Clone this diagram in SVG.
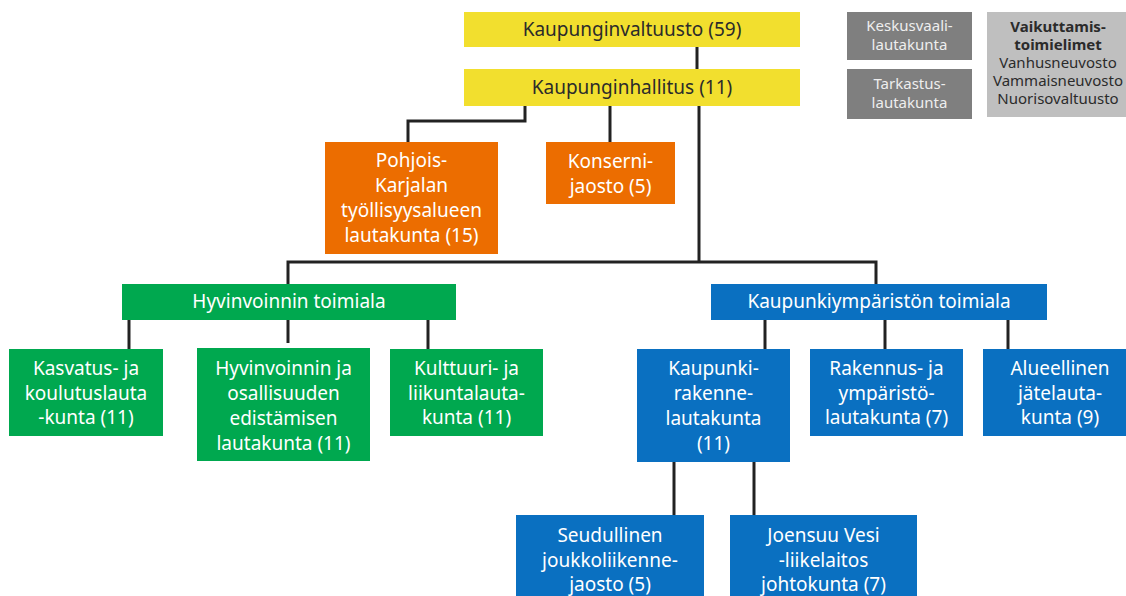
<svg xmlns="http://www.w3.org/2000/svg" width="1126" height="596" viewBox="0 0 1126 596">
<style>
.y{fill:#f2df2e}
.o{fill:#ec6d00}
.g{fill:#00a84f}
.b{fill:#0a70c1}
.dg{fill:#7f7f7f}
.lg{fill:#bfbfbf}
text{font-family:"Noto Sans","Liberation Sans",sans-serif;font-size:19px;text-anchor:middle}
.w{fill:#ffffff}
.k{fill:#2b2b2b}
.s{font-size:15px}
.sw{fill:#eeeeee}
.bd{font-weight:bold}
.c{fill:none;stroke:#222;stroke-width:3;stroke-linejoin:miter}
</style>
<g id="connectors">
<path class="c" d="M697 47V69"/>
<path class="c" d="M525 106V121H408V142"/>
<path class="c" d="M610 106V142"/>
<path class="c" d="M699 106V262"/>
<path class="c" d="M288 284V262H876V284"/>
<path class="c" d="M129 319V349"/>
<path class="c" d="M288 319V343"/>
<path class="c" d="M428 319V349"/>
<path class="c" d="M765 320V349"/>
<path class="c" d="M885 320V349"/>
<path class="c" d="M1008 320V349"/>
<path class="c" d="M674 462V515"/>
<path class="c" d="M754 462V515"/>
</g>
<g id="valtuusto"><rect class="y" x="464" y="12" width="336" height="35"/><text class="k" x="632" y="36">Kaupunginvaltuusto (59)</text></g>
<g id="hallitus"><rect class="y" x="464" y="69" width="336" height="37"/><text class="k" x="632" y="94">Kaupunginhallitus (11)</text></g>
<g id="keskusvaali"><rect class="dg" x="847" y="12" width="125" height="48"/><text class="s sw" x="909.5" y="31">Keskusvaali-</text><text class="s sw" x="909.5" y="50">lautakunta</text></g>
<g id="tarkastus"><rect class="dg" x="847" y="69" width="125" height="50"/><text class="s sw" x="909.5" y="89">Tarkastus-</text><text class="s sw" x="909.5" y="108">lautakunta</text></g>
<g id="vaikuttamis"><rect class="lg" x="987" y="12" width="139" height="105"/>
<text class="s k bd" x="1058" y="32">Vaikuttamis-</text>
<text class="s k bd" x="1058" y="50">toimielimet</text>
<text class="s k" x="1058" y="68">Vanhusneuvosto</text>
<text class="s k" x="1058" y="86">Vammaisneuvosto</text>
<text class="s k" x="1058" y="104">Nuorisovaltuusto</text></g>
<g id="pohjois"><rect class="o" x="325" y="142" width="173" height="112"/>
<text class="w" x="411.5" y="167">Pohjois-</text><text class="w" x="411.5" y="192">Karjalan</text><text class="w" x="411.5" y="217">työllisyysalueen</text><text class="w" x="411.5" y="242">lautakunta (15)</text></g>
<g id="konserni"><rect class="o" x="546" y="142" width="129" height="62"/>
<text class="w" x="610.5" y="168">Konserni-</text><text class="w" x="610.5" y="193">jaosto (5)</text></g>
<g id="hyvinvointi"><rect class="g" x="122" y="284" width="334" height="36"/><text class="w" x="289" y="308">Hyvinvoinnin toimiala</text></g>
<g id="kaupunkiymparisto"><rect class="b" x="711" y="284" width="336" height="36"/><text class="w" x="879" y="308">Kaupunkiympäristön toimiala</text></g>
<g id="kasvatus"><rect class="g" x="9" y="349" width="154" height="87"/>
<text class="w" x="86" y="375">Kasvatus- ja</text><text class="w" x="86" y="400">koulutuslauta</text><text class="w" x="86" y="424">-kunta (11)</text></g>
<g id="osallisuus"><rect class="g" x="197" y="348" width="173" height="113"/>
<text class="w" x="283.5" y="375">Hyvinvoinnin ja</text><text class="w" x="283.5" y="400">osallisuuden</text><text class="w" x="283.5" y="425">edistämisen</text><text class="w" x="283.5" y="450">lautakunta (11)</text></g>
<g id="kulttuuri"><rect class="g" x="390" y="349" width="153" height="87"/>
<text class="w" x="466.5" y="375">Kulttuuri- ja</text><text class="w" x="466.5" y="400">liikuntalauta-</text><text class="w" x="466.5" y="424">kunta (11)</text></g>
<g id="kaupunkirakenne"><rect class="b" x="637" y="349" width="153" height="113"/>
<text class="w" x="713.5" y="375">Kaupunki-</text><text class="w" x="713.5" y="400">rakenne-</text><text class="w" x="713.5" y="425">lautakunta</text><text class="w" x="713.5" y="450">(11)</text></g>
<g id="rakennus"><rect class="b" x="810" y="349" width="153" height="87"/>
<text class="w" x="886.5" y="375">Rakennus- ja</text><text class="w" x="886.5" y="400">ympäristö-</text><text class="w" x="886.5" y="424">lautakunta (7)</text></g>
<g id="jate"><rect class="b" x="983" y="349" width="143" height="87"/>
<text class="w" x="1060" y="375">Alueellinen</text><text class="w" x="1060" y="400">jätelauta-</text><text class="w" x="1060" y="424">kunta (9)</text></g>
<g id="joukkoliikenne"><rect class="b" x="516" y="515" width="188" height="90"/>
<text class="w" x="610" y="542">Seudullinen</text><text class="w" x="610" y="567">joukkoliikenne-</text><text class="w" x="610" y="591">jaosto (5)</text></g>
<g id="vesi"><rect class="b" x="730" y="515" width="187" height="90"/>
<text class="w" x="823.5" y="542">Joensuu Vesi</text><text class="w" x="823.5" y="567">-liikelaitos</text><text class="w" x="823.5" y="591">johtokunta (7)</text></g>
</svg>
